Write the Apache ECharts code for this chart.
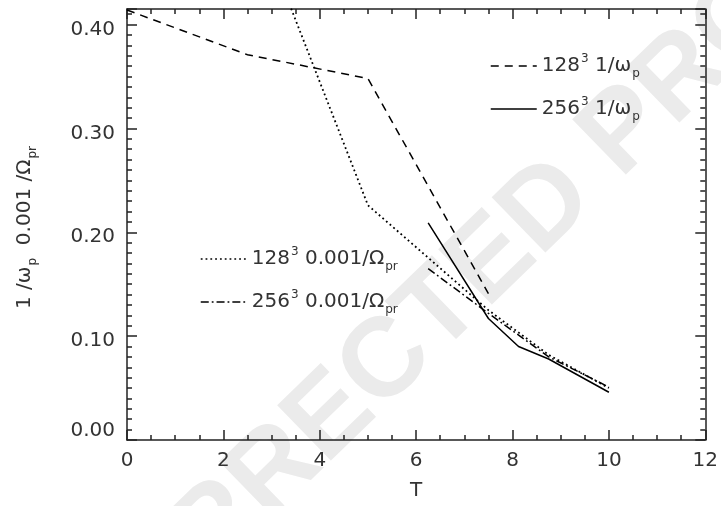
<!DOCTYPE html>
<html>
<head>
<meta charset="utf-8">
<script src="https://cdn.jsdelivr.net/npm/echarts@6/dist/echarts.min.js"></script>
<style>html,body{margin:0;padding:0;background:#fff}#c{width:721px;height:506px}</style>
</head>
<body>
<div id="c"></div>
<script>
// ---- data ----
const tDashed128 = [0, 2.5, 5, 7.5];
const invOmegaP128 = [0.414, 0.371, 0.348, 0.141];

const tDotted128 = [2.5, 5, 7.5, 8.75, 10];
const invOmegaPr128 = [0.523, 0.226, 0.125, 0.082, 0.050];

const tSolid256 = [6.25, 7.5, 8.125, 8.75, 10];
const invOmegaP256 = [0.209, 0.117, 0.090, 0.078, 0.046];

const tDashDot256 = [6.25, 7.5, 8.75, 10];
const invOmegaPr256 = [0.165, 0.122, 0.080, 0.051];

const xTicks = [0, 2, 4, 6, 8, 10, 12];
const yTicks = [0.00, 0.10, 0.20, 0.30, 0.40];

const seriesNames = ['128³ 1/ωp', '256³ 1/ωp', '128³ 0.001/Ωpr', '256³ 0.001/Ωpr'];
const legendRich = {
  '128³ 1/ωp': '{n|128}{sup|3}{n| 1/ω}{sub|p}',
  '256³ 1/ωp': '{n|256}{sup|3}{n| 1/ω}{sub|p}',
  '128³ 0.001/Ωpr': '{n|128}{sup|3}{n| 0.001/Ω}{sub|pr}',
  '256³ 0.001/Ωpr': '{n|256}{sup|3}{n| 0.001/Ω}{sub|pr}'
};

const FONT = 'DejaVu Sans';
const TXT = '#333';
const AX = '#222';
const zip = (a, b) => a.map((v, i) => [v, b[i]]);

const rich = {
  n: {fontFamily: FONT, fontSize: 20, color: TXT},
  sup: {fontFamily: FONT, fontSize: 12, color: TXT, padding: [0, 0, 14, 1]},
  sub: {fontFamily: FONT, fontSize: 12, color: TXT, padding: [16, 0, 0, 1]}
};

function xAxisCfg(pos, show) {
  return {
    type: 'value', position: pos, min: 0, max: 12, interval: 2,
    axisLine: {show: true, onZero: false, lineStyle: {color: AX, width: 1.5}},
    axisTick: {show: true, inside: true, length: 10, lineStyle: {color: AX, width: 1.5}},
    minorTick: {show: true, splitNumber: 4, length: 5, lineStyle: {color: AX, width: 1.5}},
    splitLine: {show: false},
    axisLabel: {show: show, margin: 11, fontFamily: FONT, fontSize: 20, color: TXT,
      formatter: v => xTicks.includes(v) ? String(v) : ''},
    name: show ? 'T' : '', nameLocation: 'middle', nameGap: 41,
    nameTextStyle: {fontFamily: FONT, fontSize: 20, color: TXT}
  };
}
function yAxisCfg(pos, show) {
  return {
    type: 'value', position: pos, min: 0, max: 0.415, interval: 0.1,
    axisLine: {show: true, onZero: false, lineStyle: {color: AX, width: 1.5}},
    axisTick: {show: true, inside: true, length: 10, lineStyle: {color: AX, width: 1.5}},
    minorTick: {show: true, splitNumber: 10, length: 5, lineStyle: {color: AX, width: 1.5}},
    splitLine: {show: false},
    axisLabel: {show: show, margin: 12, showMaxLabel: false,
      formatter: v => {
        const hit = yTicks.find(t => Math.abs(t - v) < 1e-9);
        if (hit === undefined) return '';
        return hit === 0 ? '{z|' + hit.toFixed(2) + '}' : '{n|' + hit.toFixed(2) + '}';
      },
      rich: {
        n: {fontFamily: FONT, fontSize: 20, color: TXT, padding: [10, 0, 0, 0]},
        z: {fontFamily: FONT, fontSize: 20, color: TXT, padding: [0, 0, 18, 0]}
      }
    },
    name: show ? '1 /ω{sub|p}  0.001 /Ω{sub|pr}' : '', nameLocation: 'middle', nameGap: 88,
    nameTextStyle: {fontFamily: FONT, fontSize: 20, color: TXT, rich: rich, padding: [0, 6, 0, 0]}
  };
}

function mkLegend(name, left, top) {
  return {
    data: [name], left: left, top: top, padding: 0, selectedMode: false,
    itemWidth: 46, itemHeight: 10,
    itemStyle: {color: 'rgba(0,0,0,0)', borderColor: 'rgba(0,0,0,0)', borderWidth: 0},
    lineStyle: {width: 1.5},
    formatter: n => legendRich[n],
    textStyle: {fontFamily: FONT, fontSize: 20, color: TXT, rich: rich}
  };
}

function mkSeries(name, xs, ys, type, w) {
  return {
    name: name, type: 'line', data: zip(xs, ys), symbol: 'none', clip: true,
    lineStyle: {color: '#000', width: w, type: type}, itemStyle: {color: '#000'},
    xAxisIndex: 0, yAxisIndex: 0, animation: false
  };
}

const chart = echarts.init(document.getElementById('c'), null, {renderer: 'canvas'});
chart.setOption({
  animation: false,
  backgroundColor: '#fff',
  grid: {left: 127, right: 13, top: 9, bottom: 57, containLabel: false},
  graphic: [{
    type: 'text', z: -10, x: 418, y: 333, rotation: 0.77, silent: true,
    style: {text: 'UNCORRECTED PROOF', font: 'bold 112px "Liberation Sans"', fill: '#ebebeb',
      align: 'center', verticalAlign: 'middle'}
  }],
  xAxis: [xAxisCfg('bottom', true), xAxisCfg('top', false)],
  yAxis: [yAxisCfg('left', true), yAxisCfg('right', false)],
  legend: [
    mkLegend(seriesNames[0], 490, 53),
    mkLegend(seriesNames[1], 490, 96),
    mkLegend(seriesNames[2], 200, 246),
    mkLegend(seriesNames[3], 200, 289)
  ],
  series: [
    mkSeries(seriesNames[0], tDashed128, invOmegaP128, [8, 6], 1.5),
    mkSeries(seriesNames[1], tSolid256, invOmegaP256, 'solid', 1.5),
    mkSeries(seriesNames[2], tDotted128, invOmegaPr128, [1.8, 3], 1.8),
    mkSeries(seriesNames[3], tDashDot256, invOmegaPr256, [8, 3, 1.8, 3], 1.5)
  ]
});
</script>
</body>
</html>
